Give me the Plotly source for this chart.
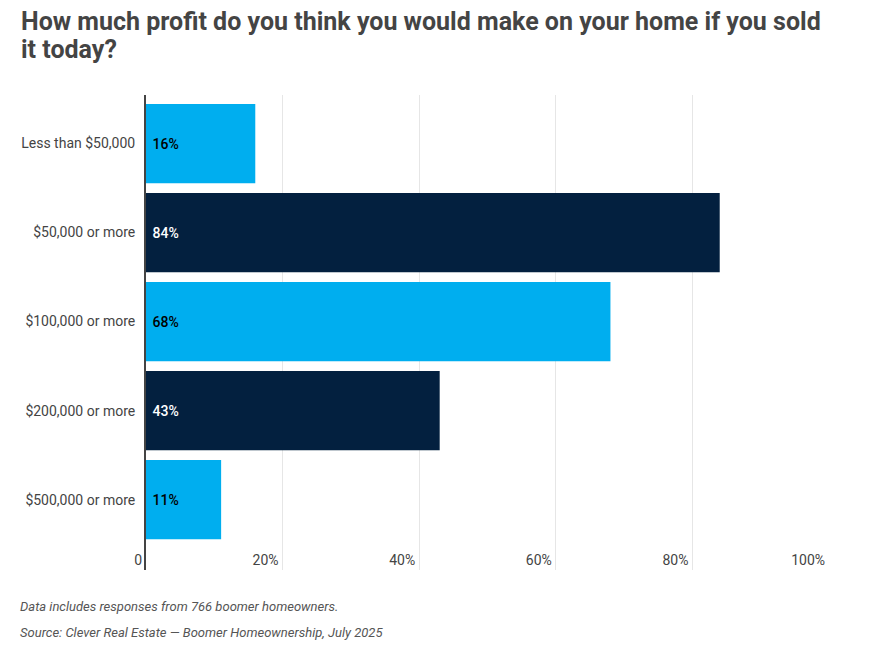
import plotly.graph_objects as go

categories = ["Less than $50,000", "$50,000 or more", "$100,000 or more", "$200,000 or more", "$500,000 or more"]
values = [16, 84, 68, 43, 11]
bar_colors = ["#00AEEF", "#03203F", "#00AEEF", "#03203F", "#00AEEF"]
text_colors = ["#000000", "#FFFFFF", "#000000", "#FFFFFF", "#000000"]
x_tickvals = [0, 20, 40, 60, 80, 100]
x_ticktext = ["0", "20%", "40%", "60%", "80%", "100%"]
title_lines = ["How much profit do you think you would make on your home if you sold",
               "it today?"]
notes = ["Data includes responses from 766 boomer homeowners.",
         "Source: Clever Real Estate — Boomer Homeownership, July 2025"]

W, H = 890, 646
ml, mr, mt, mb = 146, 61, 95, 76
pw, ph = W - ml - mr, H - mt - mb

fig = go.Figure(go.Bar(
    y=categories, x=values, orientation="h",
    marker=dict(color=bar_colors, line=dict(width=0)),
    text=[f"\u00a0{v}%" for v in values],
    textposition="inside", insidetextanchor="start",
    textfont=dict(family="Roboto", size=14, color=text_colors, weight=500),
    cliponaxis=False,
))

fig.update_layout(
    width=W, height=H,
    margin=dict(l=ml, r=mr, t=mt, b=mb),
    paper_bgcolor="white", plot_bgcolor="white",
    font=dict(family="Roboto", color="#444444"),
    bargap=0.11,
    showlegend=False,
    xaxis=dict(range=[0, 100], tickvals=x_tickvals, ticktext=x_ticktext,
               showgrid=True, gridcolor="#E6E6E6", gridwidth=1,
               zeroline=False, showline=False,
               ticklabelposition="inside left", ticklabeloverflow="allow",
               ticklabelshift=-4, ticklabelstandoff=-4,
               tickfont=dict(family="Roboto", size=14, color="#444444")),
    yaxis=dict(autorange=False, range=[4.79, -0.545],
               showgrid=False, zeroline=False,
               showline=True, linecolor="#444444", linewidth=2,
               ticks="", ticklabelstandoff=6,
               tickfont=dict(family="Roboto", size=14, color="#444444")),
)

for i, t in enumerate(title_lines):
    fig.add_annotation(text=f"<b>{t}</b>", xref="paper", yref="paper",
                       x=(19 - ml) / pw, xanchor="left", align="left",
                       y=1 + (mt - (22 + i * 28)) / ph, yanchor="middle",
                       showarrow=False, font=dict(family="Roboto", size=25, color="#444444"))

for i, n in enumerate(notes):
    fig.add_annotation(text=f"<i>{n}</i>", xref="paper", yref="paper",
                       x=(18 - ml) / pw, xanchor="left",
                       y=-(606 + i * 26 - (H - mb)) / ph, yanchor="middle",
                       showarrow=False, font=dict(family="Roboto", size=13, color="#555555"))

fig.write_html("out.html")
